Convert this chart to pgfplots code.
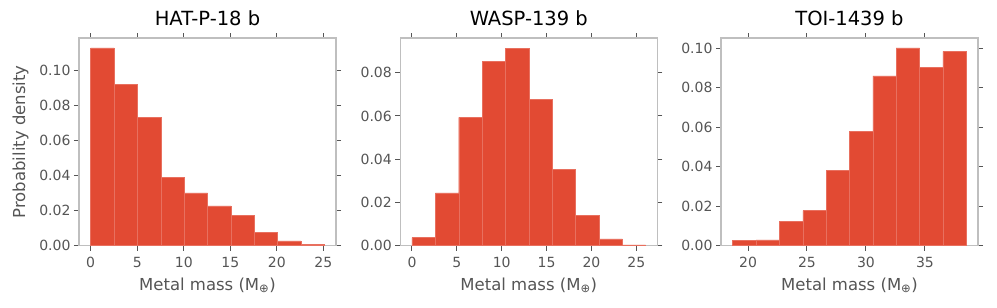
\documentclass[border=0pt]{standalone}
\usepackage{fontspec}
\setmainfont{DejaVu Sans}
\usepackage{pgfplots}
\pgfplotsset{compat=1.18}
\definecolor{barc}{HTML}{E24A33}
\definecolor{edgec}{HTML}{E8705F}
\definecolor{spine}{HTML}{BFBFBF}
\definecolor{tickc}{HTML}{555555}
\definecolor{labc}{HTML}{555555}
\pgfplotsset{
  hist/.style={
    scale only axis, width=257bp, height=207.5bp,
    anchor=south west,
    axis line style={spine, line width=1.4bp},
    tick align=outside, major tick length=5bp,
    tick style={tickc, line width=1bp},
    ymin=0, scaled y ticks=false,
    ytick={0,0.02,0.04,0.06,0.08,0.10},
    yticklabel style={/pgf/number format/fixed, /pgf/number format/fixed zerofill, /pgf/number format/precision=2},
    /pgf/number format/assume math mode=true,
    ticklabel style={font=\fontsize{14bp}{16bp}\selectfont, text=labc},
    label style={font=\fontsize{16.5bp}{19bp}\selectfont, text=labc},
    title style={font=\fontsize{19.5bp}{22bp}\selectfont, text=black, yshift=3bp},
    xticklabel shift=3bp, xlabel shift=3bp, ylabel shift=4bp,
    xlabel={Metal mass (M\textsubscript{⊕})},
  },
  histbar/.style={ybar interval, fill=barc, draw=edgec, line width=0.4bp},
}
\begin{document}
\begin{tikzpicture}
\useasboundingbox (0,0) rectangle (997bp,308bp);
\begin{axis}[hist, at={(79bp,62.4bp)}, title={HAT-P-18 b}, ylabel={Probability density},
  xmin=-1.255, xmax=26.355, ymax=0.1184, xtick={0,5,10,15,20,25}]
\addplot[histbar] coordinates {
(0.00,0.1128) (2.51,0.0920) (5.02,0.0731) (7.53,0.0389) (10.04,0.0301)
(12.55,0.0227) (15.06,0.0171) (17.57,0.0076) (20.08,0.0027) (22.59,0.0006) (25.10,0)};
\end{axis}
\begin{axis}[hist, at={(400.3bp,62.4bp)}, title={WASP-139 b},
  xmin=-1.302, xmax=27.342, ymax=0.0960, xtick={0,5,10,15,20,25}, ytick={0,0.02,0.04,0.06,0.08}]
\addplot[histbar] coordinates {
(0.000,0.0037) (2.604,0.0244) (5.208,0.0593) (7.812,0.0851) (10.416,0.0914)
(13.020,0.0676) (15.624,0.0354) (18.228,0.0139) (20.832,0.0031) (23.436,0.0003) (26.040,0)};
\end{axis}
\begin{axis}[hist, at={(721bp,62.4bp)}, title={TOI-1439 b},
  xmin=17.71, xmax=39.50, ymax=0.1052, xtick={20,25,30,35}]
\addplot[histbar] coordinates {
(18.700,0.0025) (20.681,0.0029) (22.662,0.0122) (24.643,0.0177) (26.624,0.0382)
(28.605,0.0579) (30.586,0.0861) (32.567,0.1002) (34.548,0.0905) (36.529,0.0985) (38.510,0)};
\end{axis}
\end{tikzpicture}
\end{document}
